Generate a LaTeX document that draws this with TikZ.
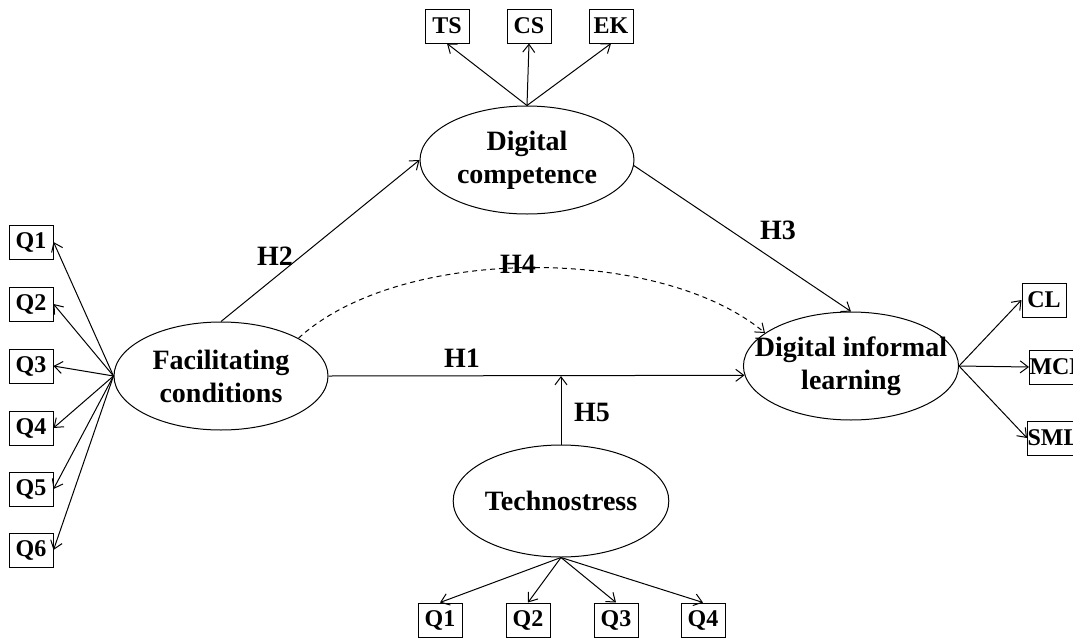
\documentclass[tikz,border=0pt]{standalone}
\usepackage{fontspec}
\setmainfont{Liberation Serif}
\usetikzlibrary{shapes.geometric,arrows.meta}

\begin{document}
\begin{tikzpicture}[x=0.5pt,y=-0.5pt]
	\tikzset{latent/.style = {shape=ellipse, draw, line width=0.5pt, inner sep=0pt, minimum width=107pt, minimum height=54pt, align=center, font=\fontsize{14}{16.5}\selectfont\bfseries}}
	\tikzset{item/.style = {shape=rectangle, draw, line width=0.5pt, inner sep=1pt, minimum width=22pt, minimum height=17pt, font=\fontsize{12}{13}\selectfont\bfseries}}
	\tikzset{edge/.style = {-{Straight Barb[length=4pt,width=6pt]}, line width=0.5pt}}
	\tikzset{hyp/.style = {font=\fontsize{14}{15}\selectfont\bfseries}}
	\useasboundingbox (0,0) rectangle (1073,638);
	\node[latent] (fc) at (221,376) {Facilitating\\conditions};
	\node[latent] (dc) at (527,160) {Digital\\competence};
	\node[latent, inner xsep=-10pt] (dil) at (851,366) {Digital informal\\learning};
	\node[latent, minimum height=56pt] (tech) at (561,501) {Technostress};
	\node[item] (fcq1) at (31,242) {Q1};
	\node[item] (fcq2) at (31,304) {Q2};
	\node[item] (fcq3) at (31,366) {Q3};
	\node[item] (fcq4) at (31,428) {Q4};
	\node[item] (fcq5) at (31,489) {Q5};
	\node[item] (fcq6) at (31,550) {Q6};
	\node[item] (dcts) at (447,26) {TS};
	\node[item] (dccs) at (529,26) {CS};
	\node[item] (dcek) at (611,26) {EK};
	\node[item] (dilcl) at (1044,300) {CL};
	\node[item, anchor=west, inner xsep=0pt] (dilmcl) at (1029,367) {MCL};
	\node[item, anchor=west, inner xsep=0pt] (dilsml) at (1027,438) {SML};
	\node[item] (techq1) at (440,620) {Q1};
	\node[item] (techq2) at (528,620) {Q2};
	\node[item] (techq3) at (616,620) {Q3};
	\node[item] (techq4) at (703,620) {Q4};
	\draw[edge] (fc.west) to (fcq1.east);
	\draw[edge] (fc.west) to (fcq2.east);
	\draw[edge] (fc.west) to (fcq3.east);
	\draw[edge] (fc.west) to (fcq4.east);
	\draw[edge] (fc.west) to (fcq5.east);
	\draw[edge] (fc.west) to (fcq6.east);
	\draw[edge] (dc.north) to (dcts.south);
	\draw[edge] (dc.north) to (dccs.south);
	\draw[edge] (dc.north) to (dcek.south);
	\draw[edge] (dil.east) to (dilcl.west);
	\draw[edge] (dil.east) to (dilmcl.west);
	\draw[edge] (dil.east) to (dilsml.west);
	\draw[edge] (tech.south) to (techq1.north);
	\draw[edge] (tech.south) to (techq2.north);
	\draw[edge] (tech.south) to (techq3.north);
	\draw[edge] (tech.south) to (techq4.north);
	\draw[edge] (fc.north) to (dc.west);
	\draw[edge] (dc.-3) to (dil.north);
	\draw[edge] (fc.east) to (dil.185);
	\draw[edge, dash pattern=on 2.5pt off 2pt] (fc.26) .. controls (400,245) and (660,245) .. (dil.159);
	\draw[edge] (tech.north) to (tech.north |- fc.east);
	\node[hyp] (h1) at (462,358) {H1};
	\node[hyp] (h2) at (275,256) {H2};
	\node[hyp] (h3) at (778,230) {H3};
	\node[hyp] (h4) at (518,264) {H4};
	\node[hyp] (h5) at (592,412) {H5};
\end{tikzpicture}
\end{document}
